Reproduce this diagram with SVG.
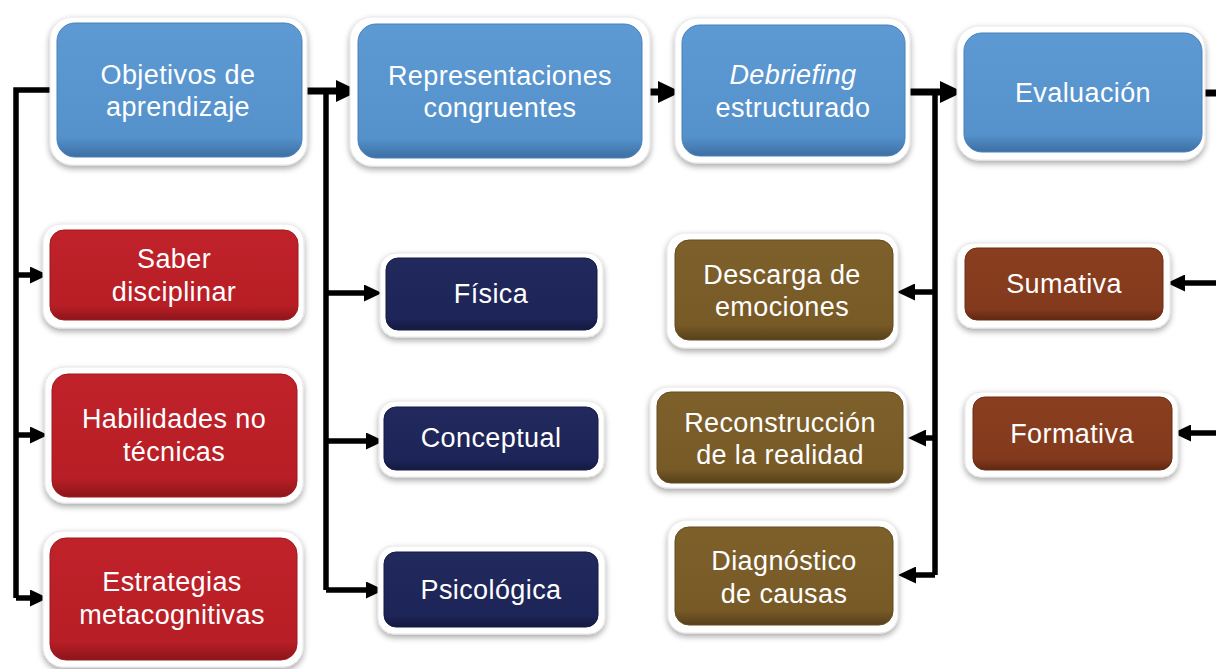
<svg xmlns="http://www.w3.org/2000/svg" width="1216" height="669" viewBox="0 0 1216 669">
<defs>
<filter id="sh" x="-10%" y="-10%" width="120%" height="130%">
<feGaussianBlur in="SourceAlpha" stdDeviation="3"/>
<feOffset dx="0" dy="3" result="b"/>
<feComponentTransfer><feFuncA type="linear" slope="0.35"/></feComponentTransfer>
<feMerge><feMergeNode/><feMergeNode in="SourceGraphic"/></feMerge>
</filter>
<linearGradient id="gBlue" x1="0" y1="0" x2="0" y2="1">
<stop offset="0" stop-color="#5d9ad3"/><stop offset="0.85" stop-color="#5592cc"/><stop offset="1" stop-color="#3d6fa3"/>
</linearGradient>
<linearGradient id="gRed" x1="0" y1="0" x2="0" y2="1">
<stop offset="0" stop-color="#c0222a"/><stop offset="0.85" stop-color="#b81e25"/><stop offset="1" stop-color="#8c151b"/>
</linearGradient>
<linearGradient id="gNavy" x1="0" y1="0" x2="0" y2="1">
<stop offset="0" stop-color="#22295d"/><stop offset="0.85" stop-color="#1d2457"/><stop offset="1" stop-color="#141a40"/>
</linearGradient>
<linearGradient id="gOlive" x1="0" y1="0" x2="0" y2="1">
<stop offset="0" stop-color="#7e602b"/><stop offset="0.85" stop-color="#785a27"/><stop offset="1" stop-color="#56401b"/>
</linearGradient>
<linearGradient id="gRust" x1="0" y1="0" x2="0" y2="1">
<stop offset="0" stop-color="#8a3e1f"/><stop offset="0.85" stop-color="#833a1c"/><stop offset="1" stop-color="#5f2812"/>
</linearGradient>
<marker id="big" markerUnits="userSpaceOnUse" markerWidth="23" markerHeight="22" refX="0" refY="11" orient="auto">
<path d="M0,0 L23,11 L0,22 z" fill="#000"/>
</marker>
<marker id="sm" markerUnits="userSpaceOnUse" markerWidth="18" markerHeight="17" refX="0" refY="8.5" orient="auto">
<path d="M0,0 L18,8.5 L0,17 z" fill="#000"/>
</marker>
</defs>
<style>
.outer{fill:#ffffff;stroke:#e6e6e6;stroke-width:1;filter:url(#sh)}
.blue{fill:url(#gBlue);stroke:#4a80b8;stroke-width:1}
.red{fill:url(#gRed);stroke:#9c1a20;stroke-width:1}
.navy{fill:url(#gNavy);stroke:#151b45;stroke-width:1}
.olive{fill:url(#gOlive);stroke:#654a1f;stroke-width:1}
.rust{fill:url(#gRust);stroke:#6c2d15;stroke-width:1}
text{font-family:"Liberation Sans",Arial,sans-serif;font-size:27px;fill:#ffffff;text-anchor:middle;letter-spacing:0.4px}
.main{fill:none;stroke:#000;stroke-width:7}
.br{fill:none;stroke:#000;stroke-width:5.5}
</style>
<rect width="1216" height="669" fill="#ffffff"/>

<g id="connectors">
<path class="main" d="M302,91 H336" marker-end="url(#big)"/>
<path class="main" d="M642,92 H658" marker-end="url(#big)"/>
<path class="main" d="M905,92 H940" marker-end="url(#big)"/>
<path class="main" d="M1202,93 H1216"/>
<path class="br" d="M53,90 H16 V598"/>
<path class="br" d="M16,275 H30" marker-end="url(#sm)"/>
<path class="br" d="M16,435 H30" marker-end="url(#sm)"/>
<path class="br" d="M16,598 H30" marker-end="url(#sm)"/>
<path class="br" d="M326,88 V590"/>
<path class="br" d="M326,293 H364" marker-end="url(#sm)"/>
<path class="br" d="M326,441 H366" marker-end="url(#sm)"/>
<path class="br" d="M326,590 H366" marker-end="url(#sm)"/>
<path class="br" d="M935,89 V575"/>
<path class="br" d="M935,292 H915" marker-end="url(#sm)"/>
<path class="br" d="M935,438 H926" marker-end="url(#sm)"/>
<path class="br" d="M935,575 H916" marker-end="url(#sm)"/>
<path class="br" d="M1216,283 H1185" marker-end="url(#sm)"/>
<path class="br" d="M1216,433 H1191" marker-end="url(#sm)"/>
</g>

<g id="objetivos">
<rect class="outer" x="50" y="17" width="257" height="148" rx="22"/>
<rect class="blue" x="57" y="23" width="245" height="134" rx="18"/>
<text x="178" y="84">Objetivos de</text><text x="178" y="116">aprendizaje</text>
</g>
<g id="representaciones">
<rect class="outer" x="350" y="17" width="300" height="149" rx="22"/>
<rect class="blue" x="358" y="24" width="284" height="134" rx="18"/>
<text x="500" y="85">Representaciones</text><text x="500" y="117">congruentes</text>
</g>
<g id="debriefing">
<rect class="outer" x="675" y="18" width="235" height="145" rx="22"/>
<rect class="blue" x="682" y="25" width="223" height="131" rx="18"/>
<text x="793" y="84" font-style="italic">Debriefing</text><text x="793" y="117">estructurado</text>
</g>
<g id="evaluacion">
<rect class="outer" x="957" y="26" width="248" height="134" rx="22"/>
<rect class="blue" x="964" y="33" width="238" height="119" rx="18"/>
<text x="1083" y="102">Evaluación</text>
</g>

<g id="saber">
<rect class="outer" x="43" y="224" width="261" height="104" rx="18"/>
<rect class="red" x="50" y="230" width="248" height="90" rx="14"/>
<text x="174" y="268">Saber</text><text x="174" y="301">disciplinar</text>
</g>
<g id="habilidades">
<rect class="outer" x="45" y="367" width="258" height="136" rx="20"/>
<rect class="red" x="52" y="374" width="245" height="123" rx="16"/>
<text x="174" y="428">Habilidades no</text><text x="174" y="461">técnicas</text>
</g>
<g id="estrategias">
<rect class="outer" x="43" y="531" width="260" height="136" rx="20"/>
<rect class="red" x="50" y="538" width="247" height="122" rx="16"/>
<text x="172" y="591">Estrategias</text><text x="172" y="624">metacognitivas</text>
</g>

<g id="fisica">
<rect class="outer" x="380" y="253" width="223" height="84" rx="16"/>
<rect class="navy" x="386" y="258" width="211" height="72" rx="12"/>
<text x="491" y="303">Física</text>
</g>
<g id="conceptual">
<rect class="outer" x="379" y="401" width="225" height="76" rx="16"/>
<rect class="navy" x="384" y="407" width="214" height="63" rx="12"/>
<text x="491" y="447">Conceptual</text>
</g>
<g id="psicologica">
<rect class="outer" x="378" y="546" width="227" height="88" rx="16"/>
<rect class="navy" x="384" y="552" width="214" height="75" rx="12"/>
<text x="491" y="599">Psicológica</text>
</g>

<g id="descarga">
<rect class="outer" x="667" y="233" width="231" height="115" rx="18"/>
<rect class="olive" x="675" y="240" width="218" height="100" rx="14"/>
<text x="782" y="284">Descarga de</text><text x="782" y="316">emociones</text>
</g>
<g id="reconstruccion">
<rect class="outer" x="650" y="387" width="257" height="101" rx="18"/>
<rect class="olive" x="657" y="392" width="246" height="91" rx="14"/>
<text x="780" y="432">Reconstrucción</text><text x="780" y="464">de la realidad</text>
</g>
<g id="diagnostico">
<rect class="outer" x="668" y="520" width="230" height="113" rx="18"/>
<rect class="olive" x="675" y="527" width="218" height="98" rx="14"/>
<text x="784" y="570">Diagnóstico</text><text x="784" y="603">de causas</text>
</g>

<g id="sumativa">
<rect class="outer" x="957" y="243" width="213" height="85" rx="16"/>
<rect class="rust" x="965" y="248" width="198" height="72" rx="12"/>
<text x="1064" y="293">Sumativa</text>
</g>
<g id="formativa">
<rect class="outer" x="965" y="392" width="213" height="85" rx="16"/>
<rect class="rust" x="973" y="397" width="199" height="73" rx="12"/>
<text x="1072" y="443">Formativa</text>
</g>
</svg>
